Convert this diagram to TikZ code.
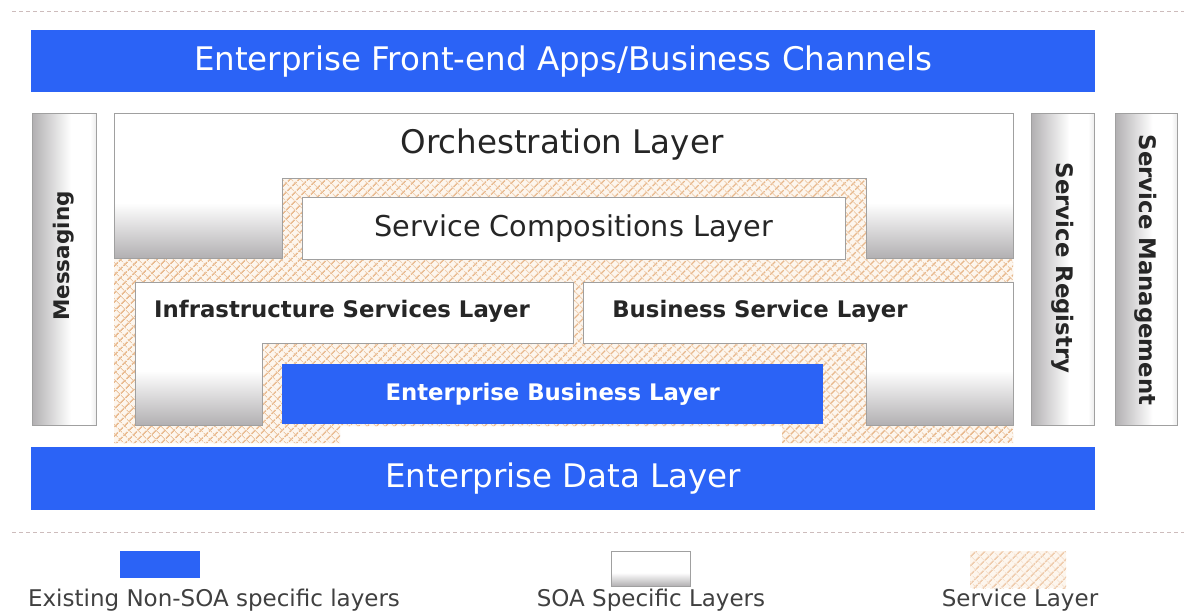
\documentclass[tikz,border=0pt]{standalone}
\usepackage{fontspec}
\setmainfont{DejaVu Sans}
\usetikzlibrary{patterns.meta}

\definecolor{bandblue}{RGB}{43,99,246}
\definecolor{hatchline}{RGB}{232,184,140}
\definecolor{hatchbg}{RGB}{253,246,238}
\definecolor{dashcol}{RGB}{205,188,188}
\definecolor{edgegray}{RGB}{160,160,160}
\definecolor{shadegray}{RGB}{178,176,178}

% white upper part, grey towards the bottom edge
\pgfdeclareverticalshading{soagrad}{100bp}{%
  color(0bp)=(shadegray); color(25bp)=(shadegray); color(44bp)=(white);
  color(100bp)=(white)}
% grey left edge fading to white, faint grey on the right
\pgfdeclarehorizontalshading{bargrad}{100bp}{%
  color(0bp)=(shadegray); color(25bp)=(shadegray); color(55bp)=(white);
  color(70bp)=(white); color(75bp)=(gray!15); color(100bp)=(gray!15)}

\newcommand\lyrtitle{\fontsize{32.5}{36}\selectfont}
\newcommand\lyrmid{\fontsize{28.7}{32}\selectfont}
\newcommand\lyrbold{\fontsize{22.8}{26}\selectfont\bfseries}
\newcommand\lyrkey{\fontsize{23}{26}\selectfont}

\begin{document}
\begin{tikzpicture}[x=1pt,y=-1pt,
  blueband/.style={fill=bandblue, draw=none, inner sep=0pt, anchor=north west},
  soashade/.style={shading=soagrad, draw=edgegray, line width=0.8pt},
  sidebar/.style={shading=bargrad, draw=edgegray, line width=0.8pt, inner sep=0pt, anchor=north west},
  plainbox/.style={fill=white, draw=edgegray, line width=0.8pt, inner sep=0pt, anchor=north west},
  sepline/.style={dashcol, line width=0.9pt, dash pattern=on 4pt off 3pt},
  hatchfill/.style={pattern={Lines[angle=45,distance=6.5pt,line width=1.8pt]}, pattern color=hatchline},
  hatchcross/.style={pattern={Lines[angle=-45,distance=6.5pt,line width=0.9pt]}, pattern color=hatchline!85},
  darktext/.style={text=black!85}
]
% canvas
\fill[white] (0,0) rectangle (1184,613);
\useasboundingbox (0,0) rectangle (1184,613);

% separators
\draw[sepline] (12,11) -- (1184,11);
\draw[sepline] (12,532) -- (1184,532);

% service layer (hatched) region
\def\servicearea{(282,178) -- (866,178) -- (866,258) -- (1013,258) -- (1013,443)
  -- (782,443) -- (782,426) -- (340,426) -- (340,443) -- (114,443) -- (114,258)
  -- (282,258) -- cycle}
\fill[hatchbg] \servicearea;
\fill[hatchfill] \servicearea;
\fill[hatchcross] \servicearea;

% front-end and data bands
\node[blueband, minimum width=1064pt, minimum height=62pt] (frontend) at (31,30)
  {\lyrtitle\color{white}Enterprise Front-end Apps/Business Channels};
\node[blueband, minimum width=1064pt, minimum height=63pt] (data) at (31,447)
  {\lyrtitle\color{white}Enterprise Data Layer};

% side bars
\node[sidebar, minimum width=64pt, minimum height=312pt] (msg) at (32,113) {};
\node[rotate=90, darktext] (msgtxt) at (64,256) {\fontsize{21.5}{24}\selectfont\bfseries Messaging};
\node[sidebar, minimum width=63pt, minimum height=312pt] (reg) at (1031,113) {};
\node[rotate=-90, darktext] (regtxt) at (1063,268) {\lyrbold Service Registry};
\node[sidebar, minimum width=62pt, minimum height=312pt] (mgmt) at (1115,113) {};
\node[rotate=-90, darktext] (mgmttxt) at (1146,270) {\lyrbold Service Management};

% orchestration layer
\shade[soashade] (114,113) -- (1013,113) -- (1013,258) -- (866,258) -- (866,178)
  -- (282,178) -- (282,258) -- (114,258) -- cycle;
\node[darktext] (orch) at (562,145) {\lyrtitle Orchestration Layer};

% service compositions
\node[plainbox, minimum width=543pt, minimum height=62pt] (comp) at (302,197)
  {\lyrmid\color{black!85}Service Compositions Layer};

% infrastructure services
\shade[soashade] (135,282) -- (573,282) -- (573,343) -- (262,343) -- (262,425)
  -- (135,425) -- cycle;
\node[darktext] (infra) at (342,311) {\lyrbold Infrastructure Services Layer};

% business services
\shade[soashade] (583,282) -- (1013,282) -- (1013,425) -- (866,425) -- (866,343)
  -- (583,343) -- cycle;
\node[darktext] (biz) at (760,311) {\lyrbold Business Service Layer};

% enterprise business layer
\node[blueband, minimum width=541pt, minimum height=60pt] (ebl) at (282,364)
  {\lyrbold\color{white}Enterprise Business Layer};

% legend
\node[blueband, minimum width=80pt, minimum height=27pt] (keyblue) at (120,551) {};
\node[anchor=base, text=black!75] (keybluetxt) at (214,606) {\lyrkey Existing Non-SOA specific layers};
\shade[soashade] (611,551) rectangle (690,586);
\node[anchor=base, text=black!75] (keysoatxt) at (651,606) {\lyrkey SOA Specific Layers};
\fill[hatchbg] (970,551) rectangle (1066,588);
\fill[hatchfill, pattern color=hatchline!70] (970,551) rectangle (1066,588);
\fill[hatchcross, pattern color=hatchline!45] (970,551) rectangle (1066,588);
\node[anchor=base, text=black!75] (keyhatchtxt) at (1020,606) {\lyrkey Service Layer};
\end{tikzpicture}
\end{document}
